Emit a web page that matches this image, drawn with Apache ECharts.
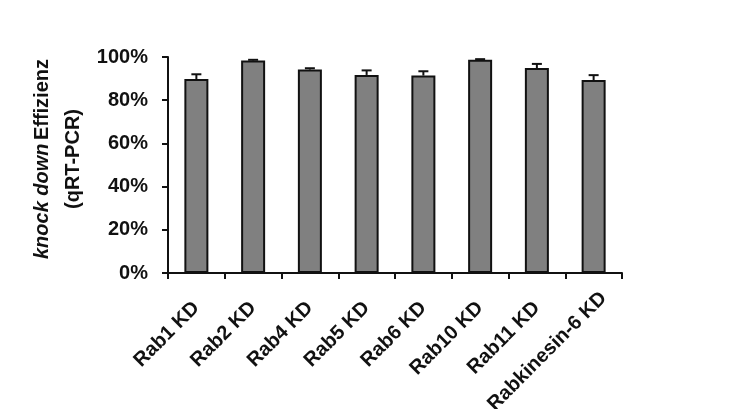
<!DOCTYPE html>
<html>
<head>
<meta charset="utf-8">
<script src="https://cdn.jsdelivr.net/npm/echarts@6/dist/echarts.min.js"></script>
<style>
  html, body { margin: 0; padding: 0; background: #ffffff; }
  #chart { width: 742px; height: 409px; }
</style>
</head>
<body>
<div id="chart"></div>
<script>
// Knock-down efficiency per Rab protein (qRT-PCR), mean with upper error
const categories = ['Rab1 KD', 'Rab2 KD', 'Rab4 KD', 'Rab5 KD', 'Rab6 KD', 'Rab10 KD', 'Rab11 KD', 'Rabkinesin-6 KD'];
const efficiency = [89.8, 98.4, 94.2, 91.7, 91.4, 98.7, 94.9, 89.3];
const errorUp = [2.2, 0.3, 0.6, 2.1, 2.0, 0.3, 1.9, 2.3];
const yTicks = [0, 20, 40, 60, 80, 100];

const FONT = 'Liberation Sans, Arial, sans-serif';
const INK = '#111';
const chart = echarts.init(document.getElementById('chart'), null, { renderer: 'canvas' });

const errorData = efficiency.map((v, i) => [i, v, v + errorUp[i]]);

// the long last label sits a little further along its slant
const categoryItems = categories.map((name, i) =>
  i === categories.length - 1
    ? { value: name, textStyle: { padding: [0, -14, 0, 0] } }
    : name
);

chart.setOption({
  backgroundColor: '#ffffff',
  animation: false,
  grid: { left: 168, right: 120, top: 57, bottom: 136, outerBoundsMode: 'none', containLabel: false },
  graphic: [
    {
      // two-line y-axis title, rotated to read bottom-up
      type: 'text',
      x: 58,
      y: 159,
      rotation: Math.PI / 2,
      style: {
        text: '{i|knock down} {b|Effizienz}\n{b|(qRT-PCR)}',
        align: 'center',
        verticalAlign: 'middle',
        rich: {
          i: { fontFamily: FONT, fontWeight: 'bold', fontStyle: 'italic', fontSize: 20, fill: INK, lineHeight: 31 },
          b: { fontFamily: FONT, fontWeight: 'bold', fontSize: 20, fill: INK, lineHeight: 31 }
        }
      }
    }
  ],
  xAxis: {
    type: 'category',
    data: categoryItems,
    boundaryGap: true,
    axisLine: { show: true, lineStyle: { color: INK, width: 2 } },
    axisTick: { show: true, inside: false, length: 6, alignWithLabel: false, lineStyle: { color: INK, width: 2 } },
    axisLabel: {
      rotate: 45,
      margin: 32,
      interval: 0,
      color: INK,
      fontFamily: FONT,
      fontWeight: 'bold',
      fontSize: 20
    },
    splitLine: { show: false }
  },
  yAxis: {
    type: 'value',
    min: yTicks[0],
    max: yTicks[yTicks.length - 1],
    interval: yTicks[1] - yTicks[0],
    axisLine: { show: true, lineStyle: { color: INK, width: 2 } },
    axisTick: { show: true, inside: false, length: 6, lineStyle: { color: INK, width: 2 } },
    axisLabel: {
      margin: 20,
      color: INK,
      fontFamily: FONT,
      fontWeight: 'bold',
      fontSize: 20,
      formatter: v => v + '%'
    },
    splitLine: { show: false }
  },
  series: [
    {
      type: 'bar',
      data: efficiency,
      barWidth: 24,
      itemStyle: { color: '#808080', borderColor: INK, borderWidth: 2 },
      z: 2
    },
    {
      type: 'custom',
      data: errorData,
      z: 3,
      renderItem: function (params, api) {
        const x = api.value(0);
        const base = api.coord([x, api.value(1)]);
        const top = api.coord([x, api.value(2)]);
        const half = 5;
        const style = { stroke: INK, lineWidth: 2 };
        return {
          type: 'group',
          children: [
            { type: 'line', shape: { x1: base[0], y1: base[1], x2: top[0], y2: top[1] }, style },
            { type: 'line', shape: { x1: top[0] - half, y1: top[1], x2: top[0] + half, y2: top[1] }, style }
          ]
        };
      }
    }
  ]
});
</script>
</body>
</html>
